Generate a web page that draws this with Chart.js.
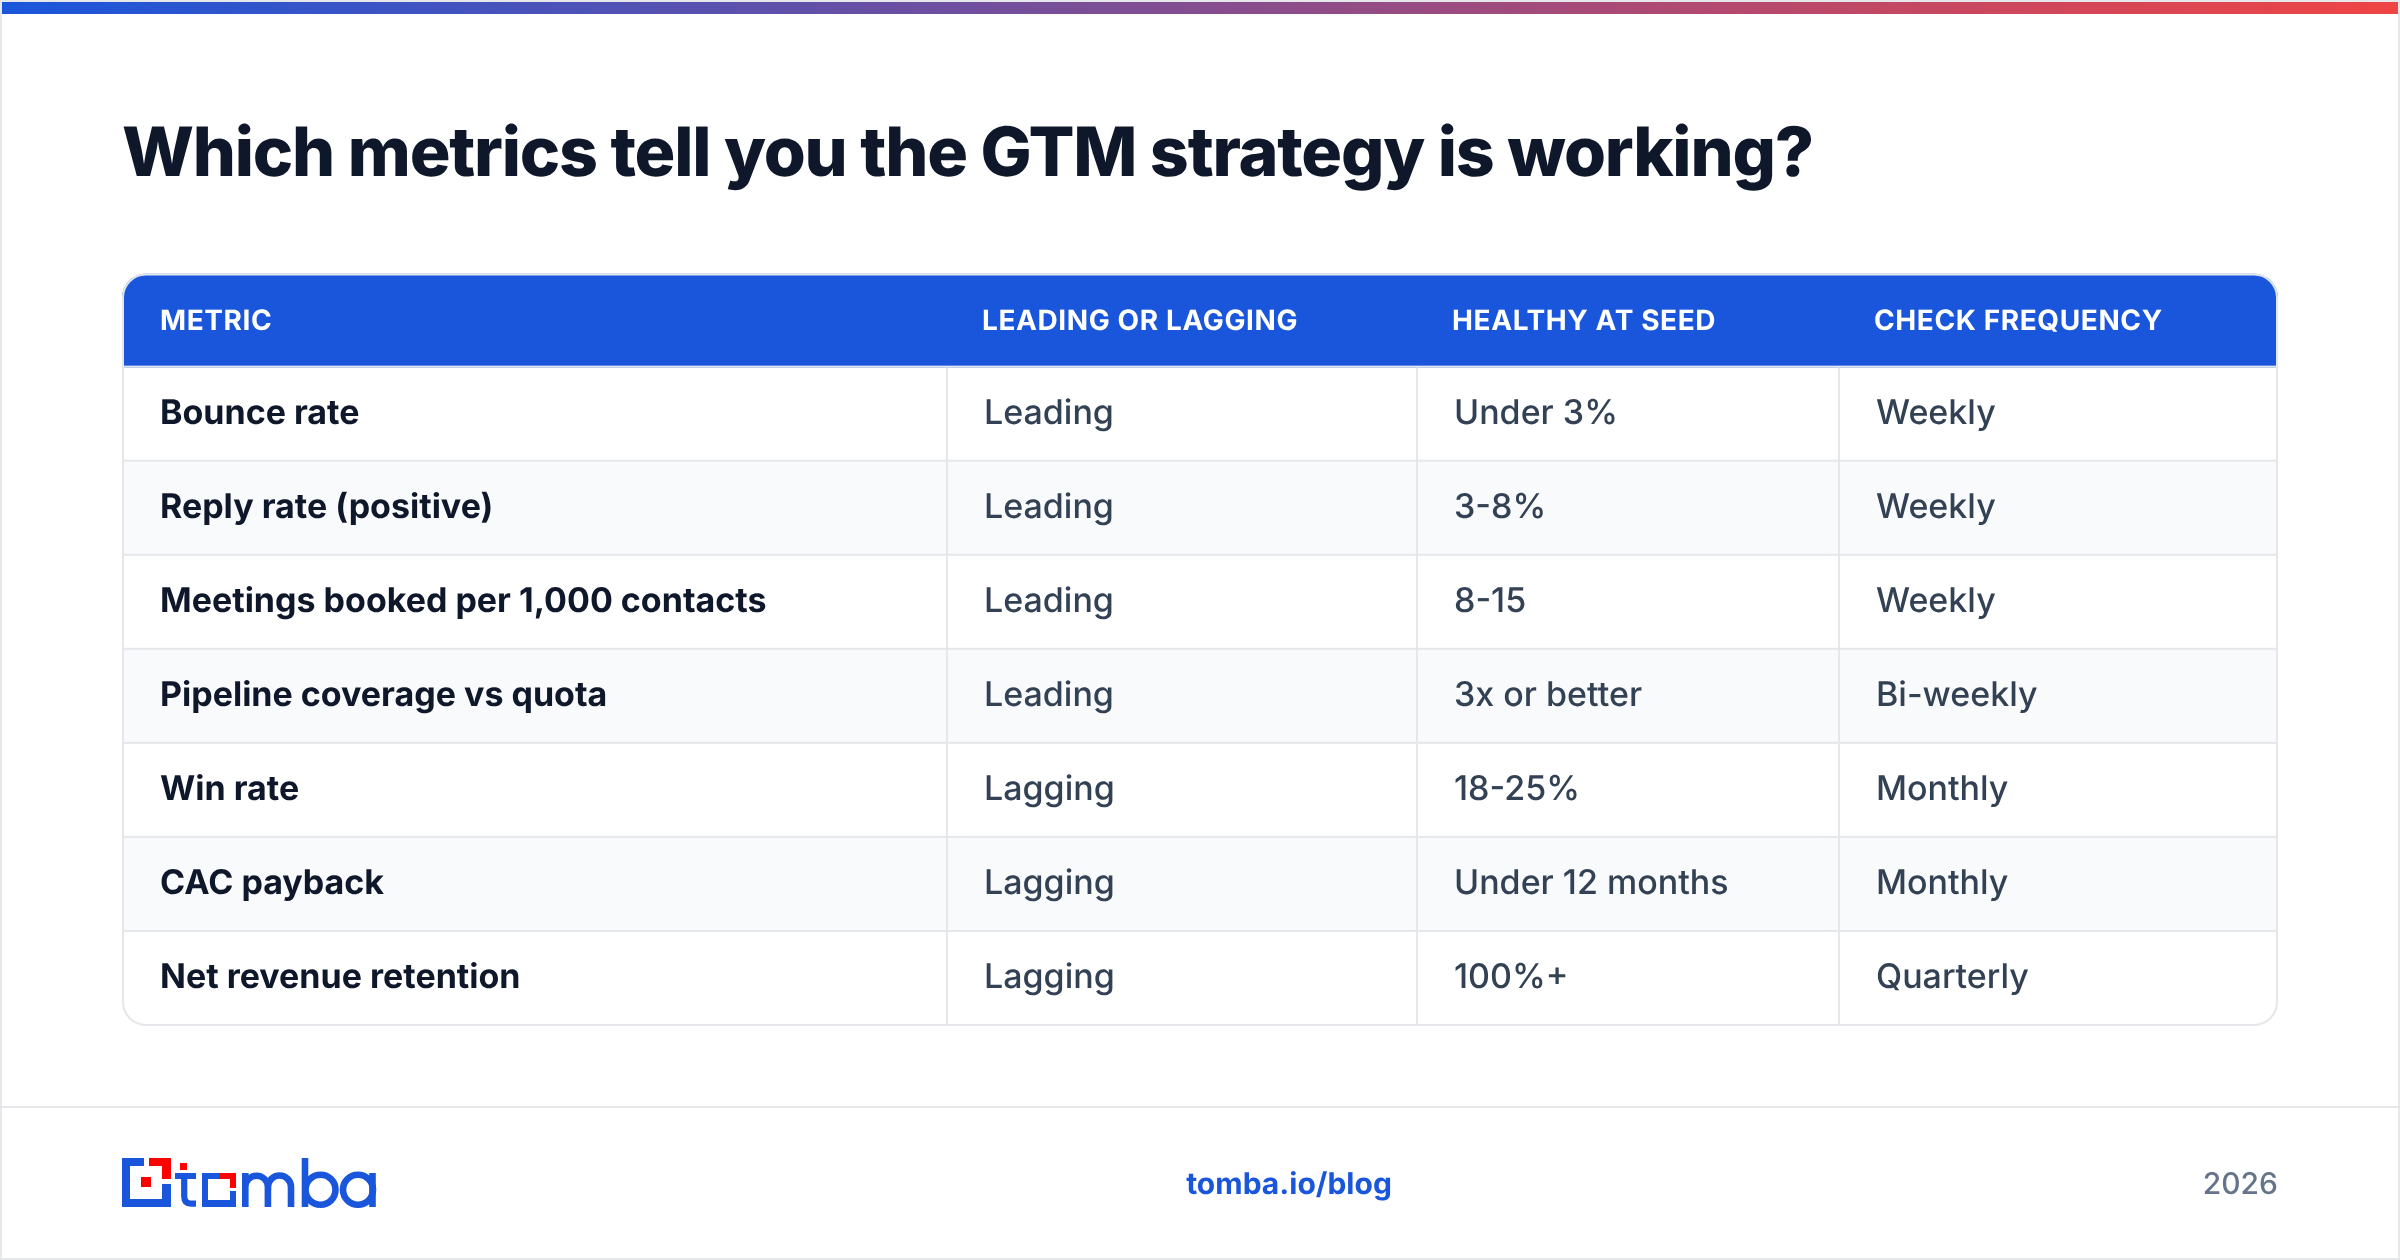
<!DOCTYPE html>
<html>
<head>
<meta charset="utf-8">
<title>GTM metrics</title>
<style>
  html, body { margin: 0; padding: 0; background: #fff; }
  canvas { display: block; }
</style>
<script src="https://cdn.jsdelivr.net/npm/chart.js@4/dist/chart.umd.js"></script>
</head>
<body>
<canvas id="tableChart" width="2400" height="1260"></canvas>
<script>
const titleText = 'Which metrics tell you the GTM strategy is working?';
const columnLabels = ['METRIC', 'LEADING OR LAGGING', 'HEALTHY AT SEED', 'CHECK FREQUENCY'];
const metrics = ['Bounce rate', 'Reply rate (positive)', 'Meetings booked per 1,000 contacts', 'Pipeline coverage vs quota', 'Win rate', 'CAC payback', 'Net revenue retention'];
const signalTypes = ['Leading', 'Leading', 'Leading', 'Leading', 'Lagging', 'Lagging', 'Lagging'];
const healthyAtSeed = ['Under 3%', '3-8%', '8-15', '3x or better', '18-25%', 'Under 12 months', '100%+'];
const checkFrequency = ['Weekly', 'Weekly', 'Weekly', 'Bi-weekly', 'Monthly', 'Monthly', 'Quarterly'];
const footerLink = 'tomba.io/blog';
const footerYear = '2026';

// layout, in canvas px
const columnWidths = [826, 470, 422, 438];
const BLUE = '#1a56db', RED = '#ff0000', LINE = '#e5e7eb';
const FONT = 'Inter, sans-serif';

const rowLabels = ['header'].concat(metrics);
const bodyColumns = [metrics, signalTypes, healthyAtSeed, checkFrequency];

function bandEdges(chart) {
    const y = chart.scales.y;
    const band = y.getPixelForValue(1) - y.getPixelForValue(0);
    return rowLabels.map((_, i) => y.getPixelForValue(i) + band / 2);
}

function columnEdges(chart) {
    let sum = 0;
    return columnWidths.map(w => {
        sum += w;
        return chart.scales.x.getPixelForValue(sum);
    });
}

// text is set at half size under a 2x transform
function drawText(ctx, text, x, y, weight, size, color, spacing) {
    ctx.save();
    ctx.scale(2, 2);
    ctx.font = weight + ' ' + size + 'px ' + FONT;
    ctx.letterSpacing = (spacing || 0) + 'px';
    ctx.fillStyle = color;
    ctx.fillText(text, x / 2, y / 2);
    ctx.restore();
}

function drawLogo(ctx) {
    const rect = (c, x, y, w, h) => { ctx.fillStyle = c; ctx.fillRect(x, y, w, h); };
    // mark
    rect(BLUE, 122, 1158, 22, 8);
    rect(BLUE, 122, 1158, 8, 49);
    rect(BLUE, 122, 1199, 49, 8);
    rect(BLUE, 162, 1184, 9, 23);
    rect(RED, 149, 1158, 22, 8);
    rect(RED, 162, 1158, 9, 21);
    rect(RED, 141, 1177, 10, 10);
    // t
    rect(RED, 180, 1163, 7, 7);
    rect(BLUE, 175, 1173, 21, 6);
    ctx.strokeStyle = BLUE;
    ctx.lineWidth = 6.2;
    ctx.beginPath();
    ctx.moveTo(184.2, 1173);
    ctx.lineTo(184.2, 1196);
    ctx.quadraticCurveTo(184.2, 1203.6, 191, 1203.6);
    ctx.lineTo(196, 1203.6);
    ctx.stroke();
    // o
    rect(BLUE, 202, 1173, 18, 6);
    rect(BLUE, 202, 1173, 6, 34);
    rect(BLUE, 202, 1200, 34, 7);
    rect(BLUE, 230, 1191, 6, 16);
    rect(RED, 220, 1173, 16, 6);
    rect(RED, 230, 1173, 6, 15);
    // m
    ctx.lineWidth = 6.6;
    ctx.beginPath();
    ctx.moveTo(245.3, 1207);
    ctx.lineTo(245.3, 1173);
    ctx.moveTo(245.3, 1187);
    ctx.arc(256.6, 1187, 11.3, Math.PI, 0);
    ctx.lineTo(267.9, 1207);
    ctx.moveTo(267.9, 1187);
    ctx.arc(279.5, 1187, 11.5, Math.PI, 0);
    ctx.lineTo(291, 1207);
    ctx.stroke();
    // b
    ctx.beginPath();
    ctx.moveTo(305, 1158);
    ctx.lineTo(305, 1207);
    ctx.stroke();
    ctx.beginPath();
    ctx.arc(320.5, 1189.7, 15, 0, Math.PI * 2);
    ctx.stroke();
    // a
    ctx.beginPath();
    ctx.arc(358, 1189.7, 15, 0, Math.PI * 2);
    ctx.stroke();
    ctx.beginPath();
    ctx.moveTo(372.5, 1173);
    ctx.lineTo(372.5, 1207);
    ctx.stroke();
}

const tablePlugin = {
    id: 'tablePlugin',
    beforeDraw(chart) {
        const ctx = chart.ctx;
        ctx.textRendering = 'geometricPrecision';
        ctx.letterSpacing = '-1.2px';
        // page frame and top stripe
        const grad = ctx.createLinearGradient(2, 0, 2398, 0);
        grad.addColorStop(0, BLUE);
        grad.addColorStop(1, '#ef4444');
        ctx.fillStyle = grad;
        ctx.fillRect(2, 2, 2396, 12);
        ctx.fillStyle = LINE;
        ctx.fillRect(0, 0, 2400, 2);
        ctx.fillRect(0, 1258, 2400, 2);
        ctx.fillRect(0, 0, 2, 1260);
        ctx.fillRect(2398, 0, 2, 1260);
        ctx.fillRect(2, 1106, 2396, 2);
    },
    beforeDatasetsDraw(chart) {
        chart.ctx.letterSpacing = '0px';
    },
    afterDatasetsDraw(chart) {
        const ctx = chart.ctx;
        const area = chart.chartArea;
        const rows = bandEdges(chart);
        const cols = columnEdges(chart);
        const y = chart.scales.y;
        const x = chart.scales.x;

        ctx.save();
        // row rules and column rules, the outer border closes the last row
        ctx.fillStyle = LINE;
        rows.slice(0, 7).forEach(edge => ctx.fillRect(area.left + 2, edge - 2, area.width - 4, 2));
        cols.slice(0, 3).forEach(edge => ctx.fillRect(edge - 2, rows[0], 2, rows[7] - rows[0] - 2));
        ctx.strokeStyle = LINE;
        ctx.lineWidth = 2;
        ctx.beginPath();
        ctx.roundRect(area.left + 1, area.top + 1, area.width - 2, area.height - 2, 23);
        ctx.stroke();

        // header and cell text
        ctx.textAlign = 'left';
        ctx.textBaseline = 'alphabetic';
        columnLabels.forEach((label, c) => {
            const left = c === 0 ? x.getPixelForValue(0) + 2 : cols[c - 1] - 2;
            drawText(ctx, label, left + 36, y.getPixelForValue(0) + 9, 700, 14, '#ffffff', 0.3);
        });
        bodyColumns.forEach((values, c) => {
            const left = c === 0 ? x.getPixelForValue(0) + 2 : cols[c - 1];
            values.forEach((text, r) => {
                drawText(ctx, text, left + 36, y.getPixelForValue(r + 1) + 9,
                    c === 0 ? 700 : 500, 17, c === 0 ? '#0f172a' : '#334155');
            });
        });

        // footer
        ctx.textAlign = 'center';
        drawText(ctx, footerLink, 1289, 1194, 700, 15, BLUE);
        ctx.textAlign = 'right';
        drawText(ctx, footerYear, area.right, 1194, 500, 15, '#64748b');
        drawLogo(ctx);
        ctx.restore();
    }
};

const cellColor = ctx => {
    if (ctx.dataIndex === 0) return BLUE;
    return ctx.dataIndex % 2 === 0 ? '#f9fafb' : '#ffffff';
};

new Chart(document.getElementById('tableChart'), {
    type: 'bar',
    plugins: [tablePlugin],
    data: {
        labels: rowLabels,
        datasets: columnLabels.map((label, c) => ({
            label: label,
            data: rowLabels.map(() => columnWidths[c]),
            backgroundColor: cellColor,
            barPercentage: 1,
            categoryPercentage: 1,
            borderWidth: 0,
            inflateAmount: 0,
            borderSkipped: false,
            borderRadius: ctx => {
                if (ctx.dataIndex !== 0) return 0;
                return {
                    topLeft: c === 0 ? 24 : 0,
                    topRight: c === columnLabels.length - 1 ? 24 : 0,
                    bottomLeft: 0,
                    bottomRight: 0
                };
            }
        }))
    },
    options: {
        indexAxis: 'y',
        responsive: false,
        devicePixelRatio: 1,
        animation: false,
        layout: { padding: { left: 122, right: 122, top: 0, bottom: 234 } },
        scales: {
            x: { display: false, stacked: true, min: 0, max: 2156 },
            y: { display: false, stacked: true }
        },
        plugins: {
            legend: { display: false },
            tooltip: { enabled: false },
            title: {
                display: true,
                text: titleText,
                align: 'start',
                color: '#0f172a',
                font: { family: FONT, size: 68, weight: '800', lineHeight: 1.2 },
                padding: { top: 115, bottom: 77 }
            }
        }
    }
});
</script>
</body>
</html>
